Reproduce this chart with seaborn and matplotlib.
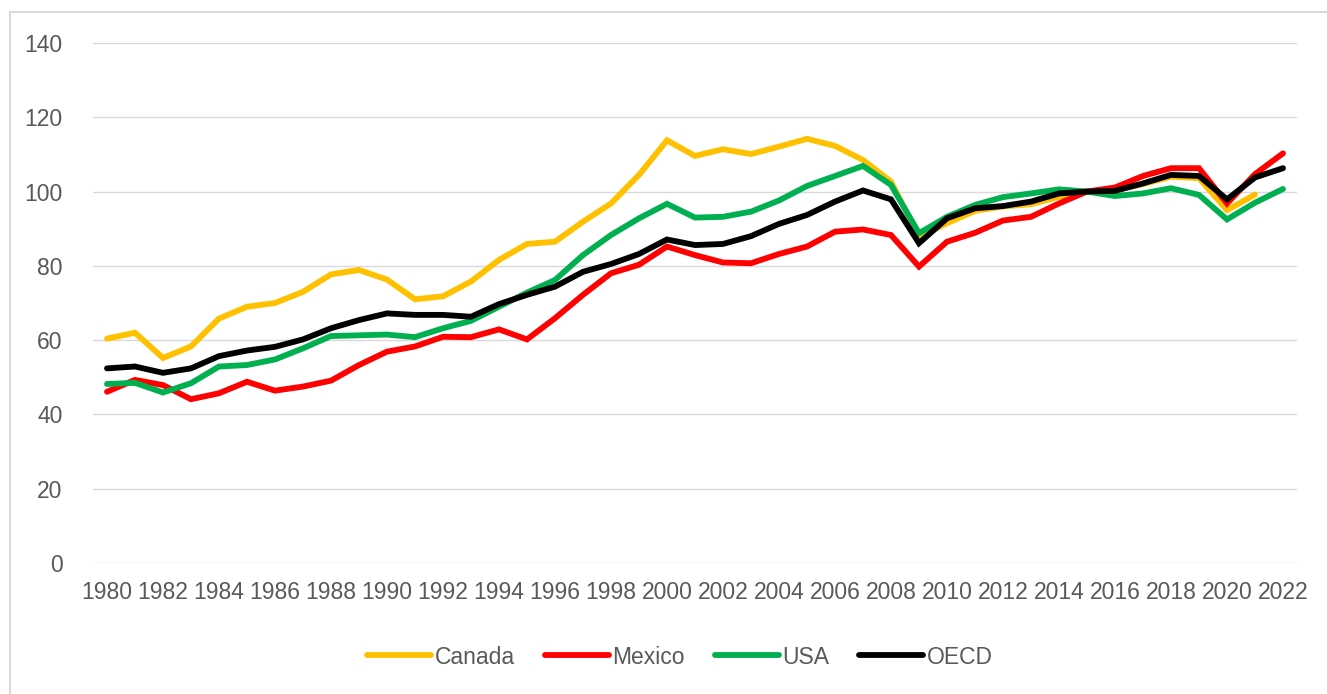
import numpy as np
import pandas as pd
import matplotlib
matplotlib.use("Agg")
import matplotlib.pyplot as plt
import seaborn as sns
from matplotlib.patches import Rectangle

years = list(range(1980, 2023))

canada = [60.4, 62.0, 55.2, 58.3, 65.8, 69.0, 70.0, 73.0, 77.7, 78.9, 76.3,
          71.0, 71.8, 75.8, 81.6, 85.9, 86.5, 91.9, 96.8, 104.5, 113.8,
          109.6, 111.4, 110.1, 112.1, 114.2, 112.3, 108.5, 102.7, 87.8, 91.5,
          94.8, 96.0, 96.6, 98.6, 100.0, 100.4, 102.0, 104.0, 103.6, 95.0,
          99.2, np.nan]
mexico = [46.1, 49.3, 47.9, 44.1, 45.7, 48.8, 46.4, 47.5, 49.1, 53.3, 56.9,
          58.3, 60.9, 60.8, 62.9, 60.2, 65.9, 72.2, 78.0, 80.3, 85.2,
          82.9, 80.9, 80.7, 83.2, 85.2, 89.2, 89.8, 88.3, 79.8, 86.5,
          88.9, 92.2, 93.2, 96.8, 100.0, 101.1, 104.2, 106.3, 106.3, 96.8,
          104.7, 110.3]
usa = [48.2, 48.5, 45.9, 48.4, 52.9, 53.3, 54.8, 57.8, 61.1, 61.3, 61.5,
       60.8, 63.2, 65.2, 69.0, 72.8, 76.2, 82.9, 88.3, 92.8, 96.7,
       93.0, 93.2, 94.6, 97.6, 101.5, 104.2, 106.9, 101.8, 88.8, 93.2,
       96.4, 98.5, 99.5, 100.6, 100.0, 98.8, 99.5, 100.9, 99.1, 92.5,
       97.0, 100.7]
oecd = [52.4, 52.9, 51.2, 52.4, 55.7, 57.2, 58.2, 60.2, 63.2, 65.4, 67.2,
        66.8, 66.8, 66.3, 69.7, 72.2, 74.4, 78.4, 80.5, 83.2, 87.1,
        85.6, 85.9, 88.0, 91.3, 93.7, 97.3, 100.3, 97.9, 86.1, 92.8,
        95.5, 96.1, 97.3, 99.5, 100.0, 100.2, 102.2, 104.5, 104.2, 97.9,
        103.8, 106.3]

series_names = ["Canada", "Mexico", "USA", "OECD"]
colors = ["#FFC000", "#FF0000", "#00B050", "#000000"]
y_ticks = [0, 20, 40, 60, 80, 100, 120, 140]
x_ticks = list(range(1980, 2023, 2))

df = pd.DataFrame({
    "year": years * 4,
    "value": canada + mexico + usa + oecd,
    "series": sum([[n] * len(years) for n in series_names], []),
})

sns.set_theme(style="white")
plt.rcParams["font.family"] = ["Liberation Sans", "DejaVu Sans"]

W, H = 1327, 694
fig = plt.figure(figsize=(W / 100, H / 100), dpi=100)
ax = fig.add_axes([93 / W, (H - 563) / H, (1297 - 93) / W, (563 - 43) / H])

sns.lineplot(data=df, x="year", y="value", hue="series", hue_order=series_names,
             palette=colors, linewidth=4.2, ax=ax, legend=False,
             solid_capstyle="round", solid_joinstyle="miter")

ax.set_xlim(1979.5, 2022.5)
ax.set_ylim(0, 140)
ax.set_yticks(y_ticks)
ax.set_xticks(x_ticks)
ax.set_xticklabels([str(x) for x in x_ticks])
ax.grid(axis="y", color="#D9D9D9", linewidth=1.0)
ax.grid(axis="x", visible=False)
ax.set_axisbelow(True)
for s in ax.spines.values():
    s.set_visible(False)
ax.tick_params(axis="both", length=0, labelsize=16.5, colors="#595959")
ax.tick_params(axis="y", pad=22)
ax.tick_params(axis="x", pad=13)
ax.set_xlabel("")
ax.set_ylabel("")

handles = [plt.Line2D([0], [0], color=c, lw=4.2, solid_capstyle="round") for c in colors]
leg = fig.legend(handles, series_names, loc="center", bbox_to_anchor=(680 / W, (H - 657) / H),
                 ncol=4, frameon=False, fontsize=16.5, handlelength=2.8,
                 handletextpad=0.15, columnspacing=1.3)
for t in leg.get_texts():
    t.set_color("#595959")

# chart-area border (top and left visible)
fig.patches.append(Rectangle((10 / W, -0.05), 1.2, (H - 12) / H + 0.05,
                             transform=fig.transFigure, fill=False,
                             edgecolor="#D9D9D9", linewidth=1.5))

fig.savefig("out.png", dpi=100)
